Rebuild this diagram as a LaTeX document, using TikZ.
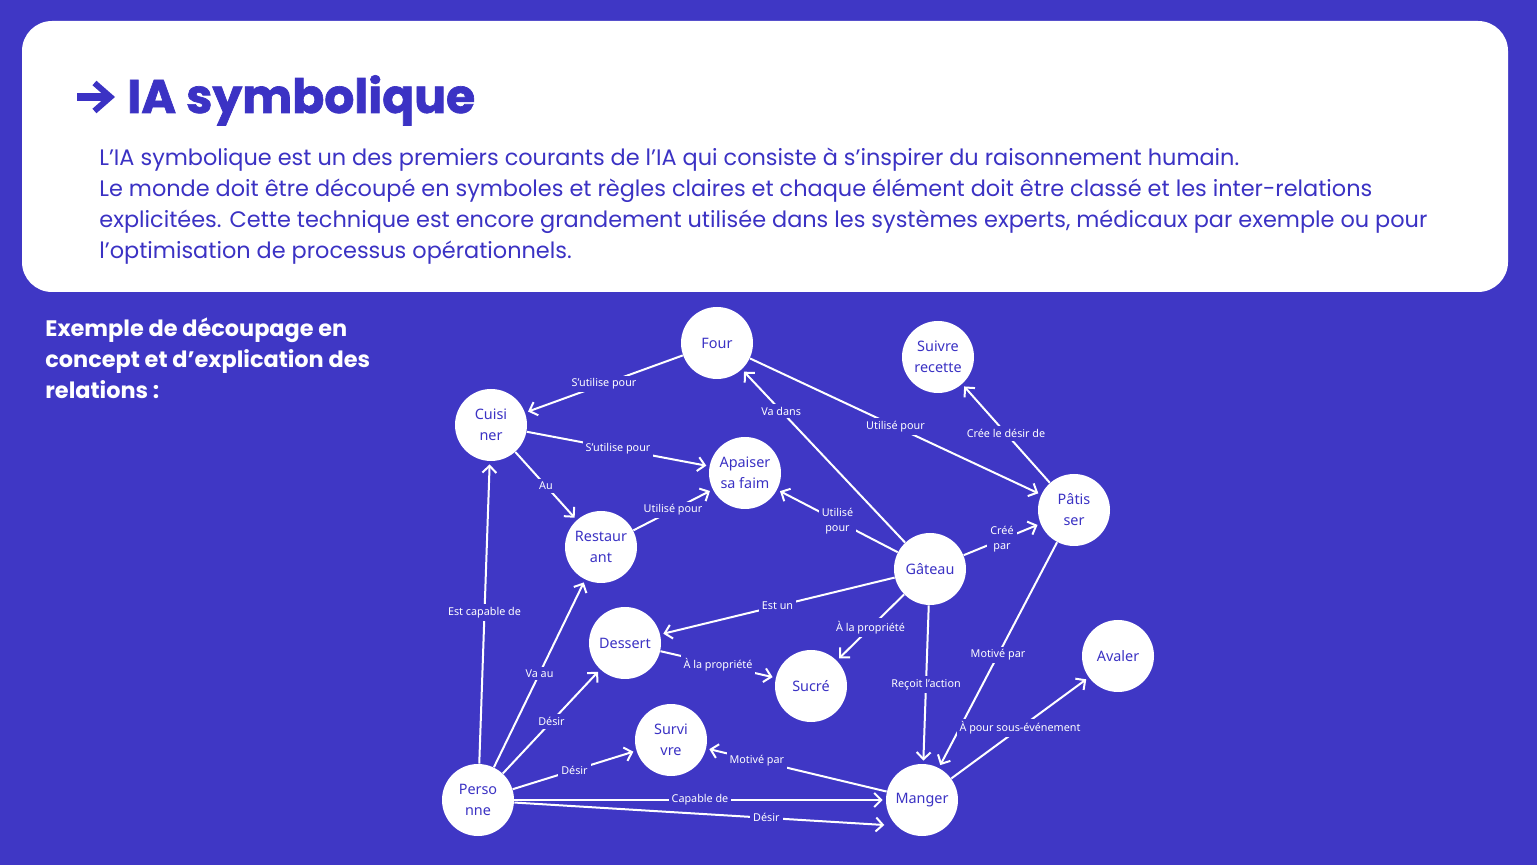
\documentclass[tikz,border=0pt]{standalone}
\usepackage{fontspec}
\setmainfont{Poppins}
\newfontfamily\headfont{Poppins}[BoldFeatures={FakeBold=1.4}]
\newfontfamily\diagfont{Noto Sans}
\usetikzlibrary{arrows.meta}
\definecolor{iabg}{HTML}{3F37C5}
\definecolor{iablue}{HTML}{3B32C4}

\begin{document}
\begin{tikzpicture}[x=0.5pt, y=-0.5pt,
  concept/.style={circle, fill=white, minimum size=36pt, inner sep=0pt,
    align=center, text=iablue, font=\diagfont\fontsize{7.2}{10.5}\selectfont},
  lbl/.style={fill=iabg, text=white, inner sep=1.5pt, align=center,
    font=\diagfont\fontsize{5.4}{7.6}\selectfont},
  rel/.style={-{Straight Barb[length=3.5pt, width=7pt]}, line width=1pt,
    draw=white, shorten >=1.5pt}
]
  \useasboundingbox (0,0) rectangle (1537,865);
  \fill[iabg] (0,0) rectangle (1537,865);
  \fill[white, rounded corners=15pt] (22,21) rectangle (1508,292);

  \draw[iablue, line width=4pt, -{Straight Barb[length=8pt, width=14pt, line width=3pt]}]
    (77,97) -- (115,97);
  \node[anchor=base west, inner sep=0pt, text=iablue,
    font=\headfont\bfseries\fontsize{23.6}{23.6}\selectfont] (title) at (127,113) {IA symbolique};
  \node[anchor=north west, inner sep=0pt, align=left, text=iablue,
    font=\fontsize{11.2}{15.5}\selectfont] (para) at (99,148)
    {L’IA symbolique est un des premiers courants de l’IA qui consiste à s’inspirer du raisonnement humain.\\
     Le monde doit être découpé en symboles et règles claires et chaque élément doit être classé et les inter-relations\\
     explicitées. Cette technique est encore grandement utilisée dans les systèmes experts, médicaux par exemple ou pour\\
     l’optimisation de processus opérationnels.};
  \node[anchor=north west, inner sep=0pt, align=left, text=white,
    font=\bfseries\fontsize{11.2}{15.5}\selectfont] (sub) at (45,317)
    {Exemple de découpage en\\concept et d’explication des\\relations :};

  \node[concept] (four) at (717,343) {Four};
  \node[concept] (suiv) at (938,357) {Suivre\\recette};
  \node[concept] (cuis) at (491,425) {Cuisi\\ner};
  \node[concept] (apai) at (745,473) {Apaiser\\sa faim};
  \node[concept] (pati) at (1074,510) {Pâtis\\ser};
  \node[concept] (rest) at (601,547) {Restaur\\ant};
  \node[concept] (gate) at (930,569) {Gâteau};
  \node[concept] (dess) at (625,643) {Dessert};
  \node[concept] (sucr) at (811,686) {Sucré};
  \node[concept] (aval) at (1118,656) {Avaler};
  \node[concept] (surv) at (671,740) {Survi\\vre};
  \node[concept] (pers) at (478,800) {Perso\\nne};
  \node[concept] (mang) at (922,800) {Manger};

  \draw[rel] (four) -- node[lbl] {S’utilise pour} (cuis);
  \draw[rel] (cuis) -- node[lbl] {S’utilise pour} (apai);
  \draw[rel] (cuis) -- node[lbl] {Au} (rest);
  \draw[rel] (rest) -- node[lbl] {Utilisé pour} (apai);
  \draw[rel] (gate) -- node[lbl, pos=0.76] {Va dans} (four);
  \draw[rel] (four) -- node[lbl] {Utilisé pour} (pati);
  \draw[rel] (pati) -- node[lbl] {Crée le désir de} (suiv);
  \draw[rel] (gate) -- node[lbl] {Utilisé\\pour} (apai);
  \draw[rel] (gate) -- node[lbl] {Créé\\par} (pati);
  \draw[rel] (gate) -- node[lbl] {Est un} (dess);
  \draw[rel] (gate) -- node[lbl] {À la propriété} (sucr);
  \draw[rel] (dess) -- node[lbl] {À la propriété} (sucr);
  \draw[rel] (gate) -- node[lbl] {Reçoit l’action} (mang);
  \draw[rel] (pati) -- node[lbl] {Motivé par} (mang);
  \draw[rel] (mang) -- node[lbl] {À pour sous-événement} (aval);
  \draw[rel] (mang) -- node[lbl, pos=0.72] {Motivé par} (surv);
  \draw[rel] (pers) -- node[lbl] {Est capable de} (cuis);
  \draw[rel] (pers) -- node[lbl] {Va au} (rest);
  \draw[rel] (pers) -- node[lbl] {Désir} (dess);
  \draw[rel] (pers) -- node[lbl] {Désir} (surv);
  \draw[rel] (pers) -- node[lbl] {Capable de} (mang);
  \draw[rel, shorten >=6pt] (pers.-4) -- node[lbl, pos=0.66] {Désir} (mang.225);
\end{tikzpicture}
\end{document}
